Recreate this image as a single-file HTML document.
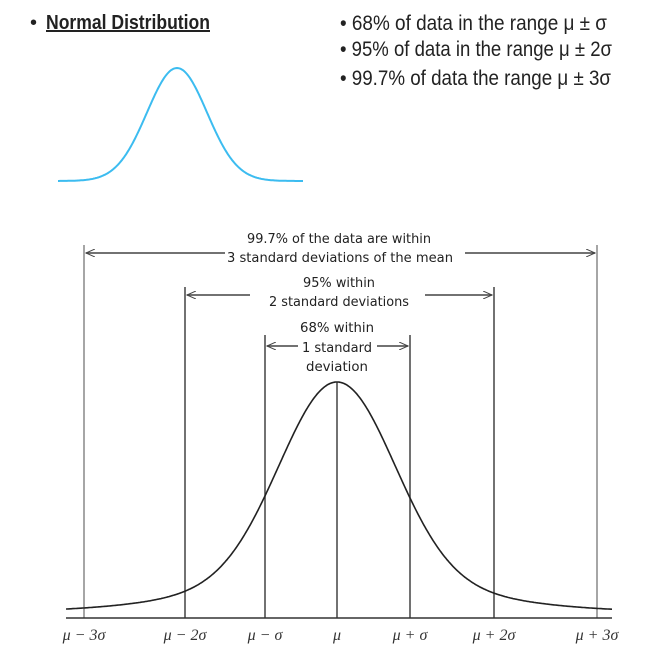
<!DOCTYPE html>
<html><head><meta charset="utf-8"><style>
body{margin:0;background:#fff;width:669px;height:651px;overflow:hidden}
svg{display:block}
.n{font-family:"Liberation Sans Narrow","Liberation Sans",sans-serif}
.c{font-family:"DejaVu Sans","Liberation Sans",sans-serif;font-size:13px;fill:#222}
.m{font-family:"Liberation Serif",serif;font-style:italic;font-size:16px;fill:#333}
</style></head><body>
<svg id="s" width="669" height="651" viewBox="0 0 669 651">
<defs><marker id="a" markerWidth="10" markerHeight="8" refX="9" refY="4" orient="auto-start-reverse" markerUnits="userSpaceOnUse"><path d="M0,0 L9,4 L0,8" fill="none" stroke="#444" stroke-width="1"/></marker></defs>
<text class="n" x="30" y="29" font-size="20" fill="#222">•</text>
<text class="n" x="46" y="29" font-size="20" font-weight="bold" fill="#222" text-decoration="underline" textLength="164" lengthAdjust="spacingAndGlyphs">Normal Distribution</text>
<text class="n" x="340" y="30" font-size="21" fill="#222" textLength="267" lengthAdjust="spacingAndGlyphs">• 68% of data in the range μ ± σ</text>
<text class="n" x="340" y="56" font-size="21" fill="#222" textLength="272" lengthAdjust="spacingAndGlyphs">• 95% of data in the range μ ± 2σ</text>
<text class="n" x="340" y="85" font-size="21" fill="#222" textLength="271" lengthAdjust="spacingAndGlyphs">• 99.7% of data the range μ ± 3σ</text>
<path id="blue" fill="none" stroke="#3cbcf0" stroke-width="2"/>
<g stroke="#444" stroke-width="1.5" fill="none">
<line x1="84" y1="245" x2="84" y2="618" stroke="#888"/>
<line x1="597" y1="245" x2="597" y2="618" stroke="#888"/>
<line x1="185" y1="287" x2="185" y2="618"/>
<line x1="494" y1="287" x2="494" y2="618"/>
<line x1="265" y1="335" x2="265" y2="618"/>
<line x1="410" y1="335" x2="410" y2="618"/>
<line x1="337" y1="382" x2="337" y2="618"/>
<line x1="66" y1="618" x2="612" y2="618" stroke="#333"/>
<line x1="86" y1="253" x2="225" y2="253" marker-end="url(#a)" transform="rotate(180 155.5 253)"/>
<line x1="465" y1="253" x2="595" y2="253" marker-end="url(#a)"/>
<line x1="187" y1="295" x2="250" y2="295" marker-end="url(#a)" transform="rotate(180 218.5 295)"/>
<line x1="425" y1="295" x2="492" y2="295" marker-end="url(#a)"/>
<line x1="267" y1="346" x2="298" y2="346" marker-end="url(#a)" transform="rotate(180 282.5 346)"/>
<line x1="377" y1="346" x2="408" y2="346" marker-end="url(#a)"/>
<path id="black" stroke="#222" stroke-width="1.6"/>
</g>
<g class="c" text-anchor="middle">
<text x="339" y="243" textLength="184" lengthAdjust="spacingAndGlyphs">99.7% of the data are within</text>
<text x="340" y="262" textLength="226" lengthAdjust="spacingAndGlyphs">3 standard deviations of the mean</text>
<text x="339" y="287" textLength="72" lengthAdjust="spacingAndGlyphs">95% within</text>
<text x="339" y="306" textLength="140" lengthAdjust="spacingAndGlyphs">2 standard deviations</text>
<text x="337" y="332" textLength="74" lengthAdjust="spacingAndGlyphs">68% within</text>
<text x="337" y="352" textLength="70" lengthAdjust="spacingAndGlyphs">1 standard</text>
<text x="337" y="371" textLength="62" lengthAdjust="spacingAndGlyphs">deviation</text>
</g>
<g class="m" text-anchor="middle">
<text x="84" y="640">μ − 3σ</text>
<text x="185" y="640">μ − 2σ</text>
<text x="265" y="640">μ − σ</text>
<text x="337" y="640">μ</text>
<text x="410" y="640">μ + σ</text>
<text x="494" y="640">μ + 2σ</text>
<text x="597" y="640">μ + 3σ</text>
</g>
</svg>
<script>
(function(){
var d="";
for(var x=58;x<=303;x+=1){var t=(x-177)/30;var y=181-113*Math.exp(-t*t/2);d+=(x==58?"M":"L")+x+","+y.toFixed(1);}
document.getElementById("blue").setAttribute("d",d);
d="";
for(var x=66;x<=612;x+=1){var t=(x-337)/73;var f=0.86*Math.exp(-t*t/(2*0.78*0.78))+0.14*Math.exp(-t*t/(2*1.7*1.7));var y=612-230*f;d+=(x==66?"M":"L")+x+","+y.toFixed(1);}
document.getElementById("black").setAttribute("d",d);
})();
</script>
</body></html>
